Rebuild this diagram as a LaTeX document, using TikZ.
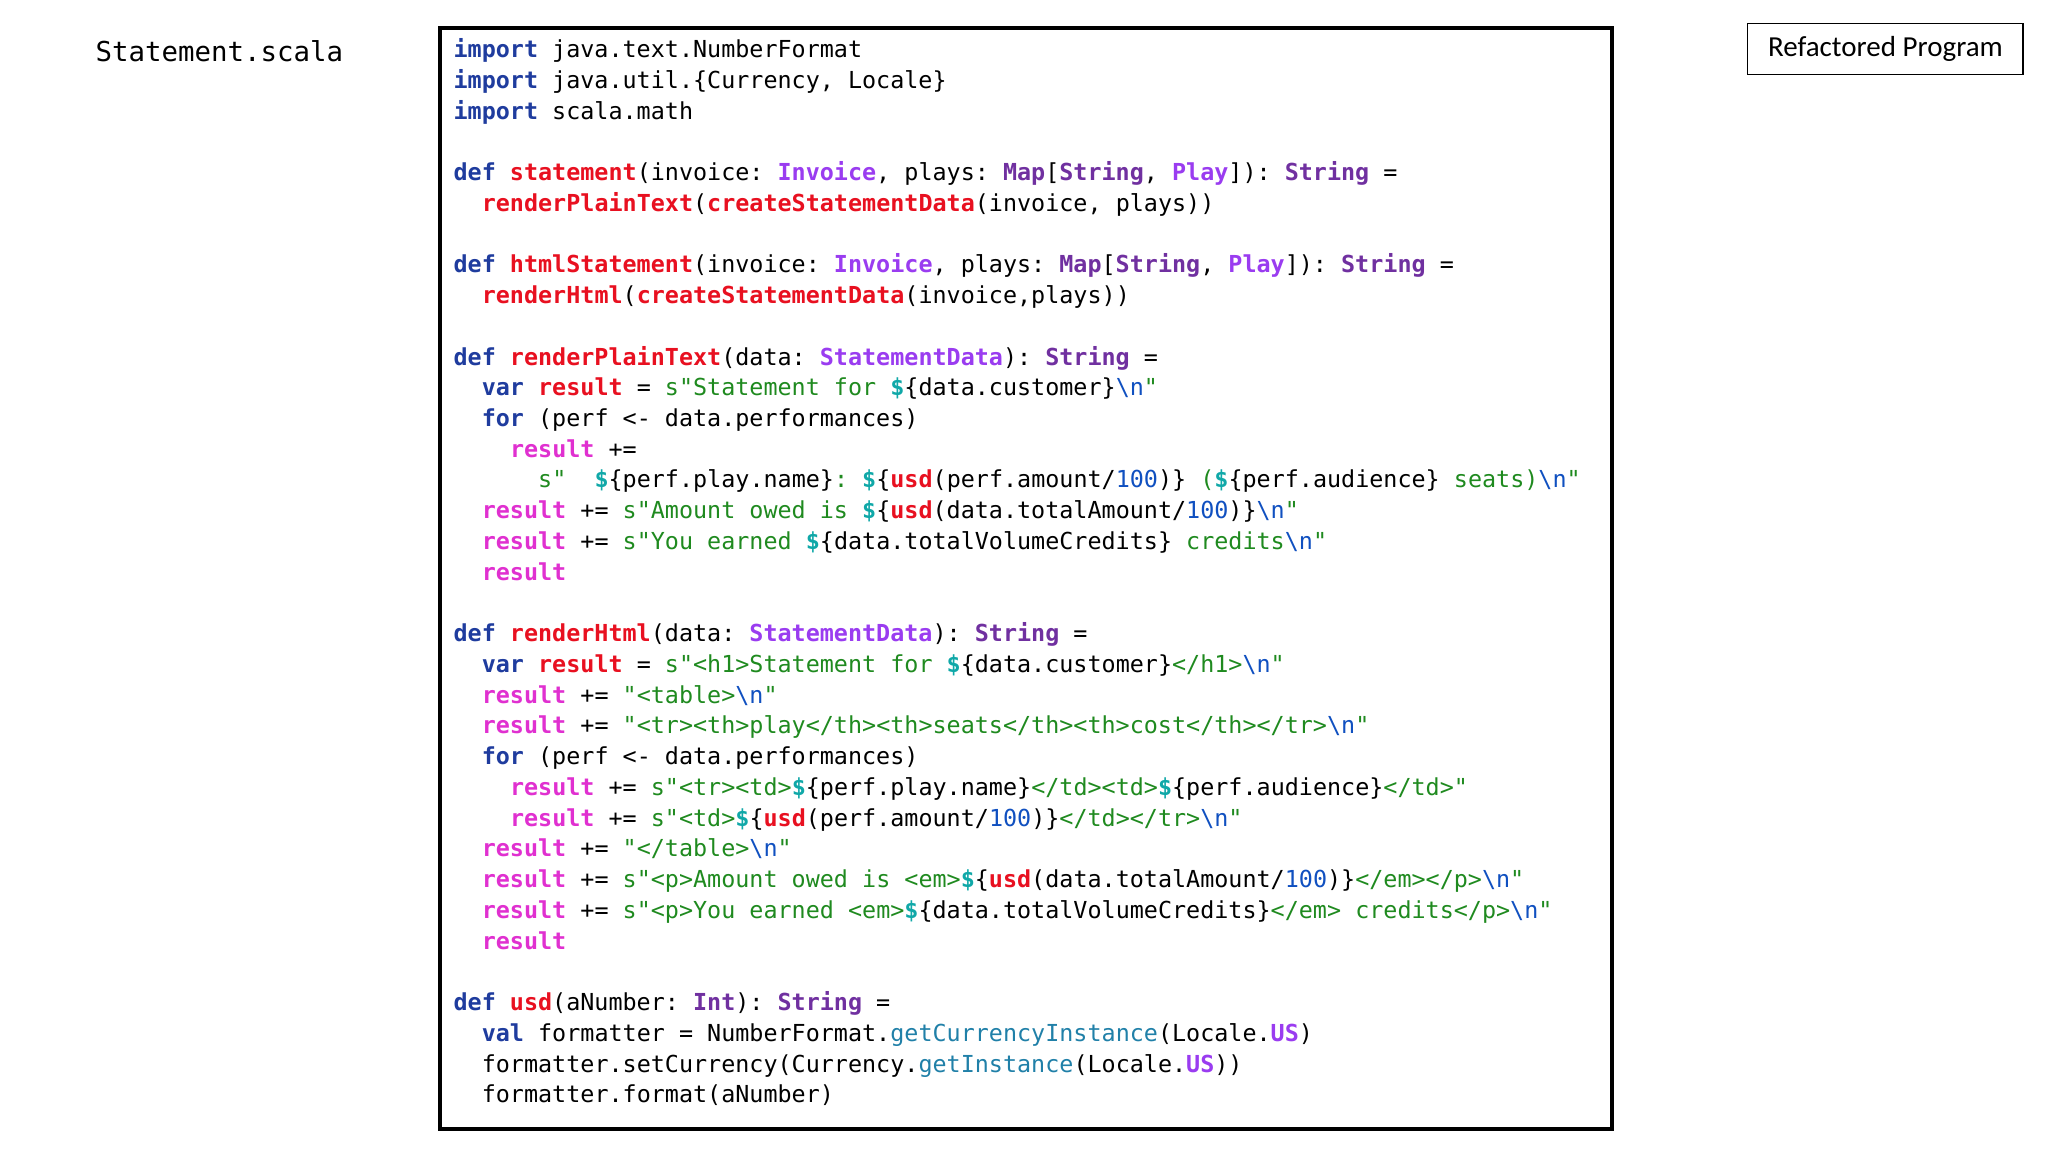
\documentclass[tikz,border=0pt]{standalone}
\usepackage{fontspec}
\setmonofont{DejaVu Sans Mono}
\newfontfamily\calib{Carlito}
\definecolor{ckwc}{HTML}{1F3C9E}
\definecolor{cfnc}{HTML}{E81020}
\definecolor{ctyc}{HTML}{7030A0}
\definecolor{ctlc}{HTML}{9A3CF0}
\definecolor{crec}{HTML}{E030D0}
\definecolor{cstc}{HTML}{1F8A1F}
\definecolor{cdlc}{HTML}{10A8A8}
\definecolor{cnlc}{HTML}{1050C0}
\definecolor{cmec}{HTML}{2080A8}
\newcommand\ckw[1]{\textcolor{ckwc}{\relax\bfseries #1}}
\newcommand\cfn[1]{\textcolor{cfnc}{\relax\bfseries #1}}
\newcommand\cty[1]{\textcolor{ctyc}{\relax\bfseries #1}}
\newcommand\ctl[1]{\textcolor{ctlc}{\relax\bfseries #1}}
\newcommand\cre[1]{\textcolor{crec}{\relax\bfseries #1}}
\newcommand\cst[1]{\textcolor{cstc}{\relax#1}}
\newcommand\cdl{\textcolor{cdlc}{\relax\bfseries\$}}
\newcommand\cnl[1]{\textcolor{cnlc}{\relax#1}}
\newcommand\cme[1]{\textcolor{cmec}{\relax#1}}
\newcommand\bsn{\cnl{\textbackslash n}}
\newcommand\Ln[3]{\node[code] (l#2) at ({226.6+#1*7.05},{-28.8-#2*15.37}) {#3};}
\begin{document}
\begin{tikzpicture}[x=1pt,y=1pt,
  code/.style={anchor=base west,inner sep=0pt,font=\ttfamily\fontsize{11.7}{14}\selectfont}]
\useasboundingbox (0,0) rectangle (1024,-576);
\node[draw,line width=2pt,minimum width=586.4pt,minimum height=550.4pt,anchor=north west,inner sep=0pt] (box) at (218.8,-13.1) {};
\node[font=\ttfamily\fontsize{13.7}{16}\selectfont] (title) at (109.7,-25.6) {Statement.scala};
\node[draw,line width=0.8pt,minimum width=137.8pt,minimum height=25.4pt,inner sep=0pt,font=\calib\fontsize{14.5}{17}\selectfont] (tag) at (942.7,-24.5) {Refactored Program};
\Ln{0}{0}{\ckw{import} java.text.NumberFormat}
\Ln{0}{1}{\ckw{import} java.util.\{Currency, Locale\}}
\Ln{0}{2}{\ckw{import} scala.math}
\Ln{0}{4}{\ckw{def} \cfn{statement}(invoice: \ctl{Invoice}, plays: \cty{Map}[\cty{String}, \ctl{Play}]): \cty{String} =}
\Ln{2}{5}{\cfn{renderPlainText}(\cfn{createStatementData}(invoice, plays))}
\Ln{0}{7}{\ckw{def} \cfn{htmlStatement}(invoice: \ctl{Invoice}, plays: \cty{Map}[\cty{String}, \ctl{Play}]): \cty{String} =}
\Ln{2}{8}{\cfn{renderHtml}(\cfn{createStatementData}(invoice,plays))}
\Ln{0}{10}{\ckw{def} \cfn{renderPlainText}(data: \ctl{StatementData}): \cty{String} =}
\Ln{2}{11}{\ckw{var} \cfn{result} = \cst{s"Statement for }\cdl\{data.customer\}\bsn\cst{"}}
\Ln{2}{12}{\ckw{for} (perf <- data.performances)}
\Ln{4}{13}{\cre{result} +=}
\Ln{6}{14}{\cst{s"\ \ }\cdl\{perf.play.name\}\cst{: }\cdl\{\cfn{usd}(perf.amount/\cnl{100})\}\cst{ (}\cdl\{perf.audience\}\cst{ seats)}\bsn\cst{"}}
\Ln{2}{15}{\cre{result} += \cst{s"Amount owed is }\cdl\{\cfn{usd}(data.totalAmount/\cnl{100})\}\bsn\cst{"}}
\Ln{2}{16}{\cre{result} += \cst{s"You earned }\cdl\{data.totalVolumeCredits\}\cst{ credits}\bsn\cst{"}}
\Ln{2}{17}{\cre{result}}
\Ln{0}{19}{\ckw{def} \cfn{renderHtml}(data: \ctl{StatementData}): \cty{String} =}
\Ln{2}{20}{\ckw{var} \cfn{result} = \cst{s"<h1>Statement for }\cdl\{data.customer\}\cst{</h1>}\bsn\cst{"}}
\Ln{2}{21}{\cre{result} += \cst{"<table>}\bsn\cst{"}}
\Ln{2}{22}{\cre{result} += \cst{"<tr><th>play</th><th>seats</th><th>cost</th></tr>}\bsn\cst{"}}
\Ln{2}{23}{\ckw{for} (perf <- data.performances)}
\Ln{4}{24}{\cre{result} += \cst{s"<tr><td>}\cdl\{perf.play.name\}\cst{</td><td>}\cdl\{perf.audience\}\cst{</td>"}}
\Ln{4}{25}{\cre{result} += \cst{s"<td>}\cdl\{\cfn{usd}(perf.amount/\cnl{100})\}\cst{</td></tr>}\bsn\cst{"}}
\Ln{2}{26}{\cre{result} += \cst{"</table>}\bsn\cst{"}}
\Ln{2}{27}{\cre{result} += \cst{s"<p>Amount owed is <em>}\cdl\{\cfn{usd}(data.totalAmount/\cnl{100})\}\cst{</em></p>}\bsn\cst{"}}
\Ln{2}{28}{\cre{result} += \cst{s"<p>You earned <em>}\cdl\{data.totalVolumeCredits\}\cst{</em> credits</p>}\bsn\cst{"}}
\Ln{2}{29}{\cre{result}}
\Ln{0}{31}{\ckw{def} \cfn{usd}(aNumber: \cty{Int}): \cty{String} =}
\Ln{2}{32}{\ckw{val} formatter = NumberFormat.\cme{getCurrencyInstance}(Locale.\ctl{US})}
\Ln{2}{33}{formatter.setCurrency(Currency.\cme{getInstance}(Locale.\ctl{US}))}
\Ln{2}{34}{formatter.format(aNumber)}
\end{tikzpicture}
\end{document}
